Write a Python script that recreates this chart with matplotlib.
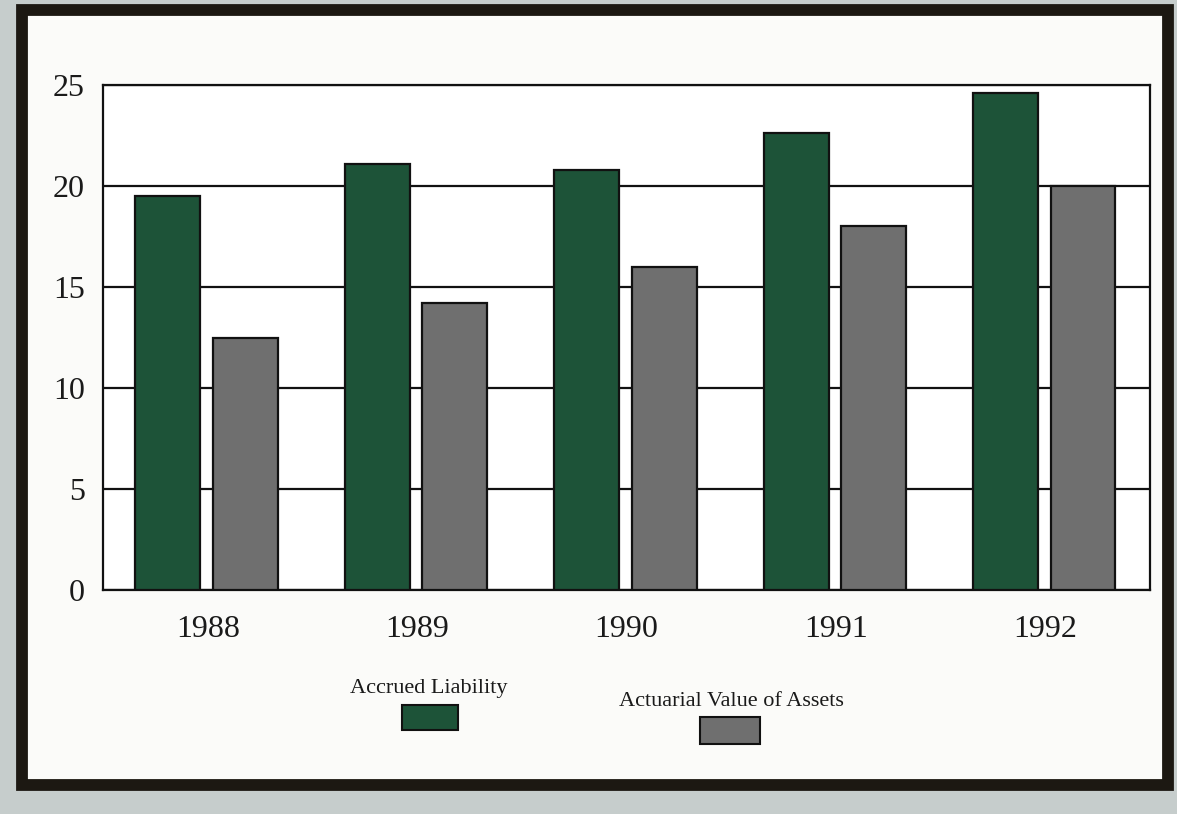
import matplotlib
matplotlib.use('Agg')
import numpy as np
from matplotlib import pyplot as plt
from matplotlib.patches import Rectangle

# data (billions)
years = ['1988', '1989', '1990', '1991', '1992']
accrued_liability = [19.5, 21.1, 20.8, 22.6, 24.6]
actuarial_assets = [12.5, 14.2, 16.0, 18.0, 20.0]

green = '#1d5338'
grey = '#6f6f6f'

plt.rcParams['font.family'] = ['Liberation Serif', 'DejaVu Serif']

fig = plt.figure(figsize=(11.77, 8.14), dpi=100, facecolor='#c6cdcc')

# white paper panel with a thick dark frame (behind the axes)
panel = Rectangle((22 / 1177, 1 - 785 / 814), 1146 / 1177, 775 / 814,
                  transform=fig.transFigure, facecolor='#fbfbf9',
                  edgecolor='#1c1812', linewidth=8.5, zorder=-5)
fig.patches.append(panel)

ax = fig.add_axes([103 / 1177, 1 - 590 / 814, 1047 / 1177, 505 / 814])
ax.set_facecolor('white')

x = np.arange(len(years))
w = 0.31
ax.bar(x - 0.19, accrued_liability, w, color=green, edgecolor='#111111',
       linewidth=1.6, zorder=3)
ax.bar(x + 0.18, actuarial_assets, w, color=grey, edgecolor='#111111',
       linewidth=1.6, zorder=3)

ax.set_xlim(-0.5, 4.5)
ax.set_ylim(0, 25)
ax.set_yticks([0, 5, 10, 15, 20, 25])
ax.set_xticks(x)
ax.set_xticklabels(years)
ax.yaxis.grid(True, color='#111111', linewidth=1.6, zorder=1)
ax.set_axisbelow(True)
ax.tick_params(axis='y', length=0, pad=13, labelsize=23, colors='#1a1a1a')
ax.tick_params(axis='x', length=0, pad=18, labelsize=23, colors='#1a1a1a')
for s in ax.spines.values():
    s.set_linewidth(1.6)
    s.set_color('#111111')

# legend drawn as caption + swatch underneath
fig.text(429 / 1177, 1 - 688 / 814, 'Accrued Liability', ha='center',
         va='center', fontsize=16, color='#1a1a1a')
fig.patches.append(Rectangle((402 / 1177, 1 - 730 / 814), 56 / 1177, 25 / 814,
                             transform=fig.transFigure, facecolor=green,
                             edgecolor='#111111', linewidth=1.5))
fig.text(731 / 1177, 1 - 702 / 814, 'Actuarial Value of Assets', ha='center',
         va='center', fontsize=16, color='#1a1a1a')
fig.patches.append(Rectangle((700 / 1177, 1 - 744 / 814), 60 / 1177, 27 / 814,
                             transform=fig.transFigure, facecolor=grey,
                             edgecolor='#111111', linewidth=1.5))

fig.savefig('out.png', dpi=100, facecolor=fig.get_facecolor())
